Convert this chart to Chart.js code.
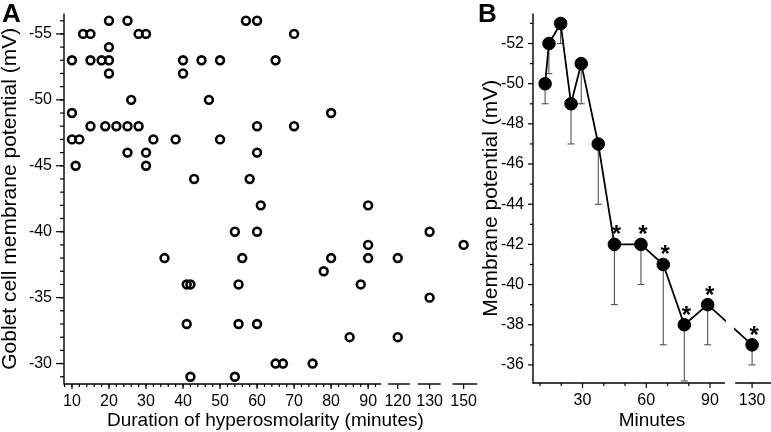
<!DOCTYPE html>
<html>
<head>
<meta charset="utf-8">
<script src="https://cdn.jsdelivr.net/npm/chart.js@4.4.1/dist/chart.umd.min.js"></script>
<style>
    html, body { margin: 0; padding: 0; background: #fff; }
    #wrap { position: relative; width: 771px; height: 432px; overflow: hidden; }
    canvas { position: absolute; top: 0; }
    #cA { left: 0; }
    #cB { left: 480px; }
    .painel { position: absolute; top: 0; font: bold 26px "Liberation Sans", Arial, sans-serif; line-height: 1; color: #000; }
</style>
</head>
<body>
<div id="wrap">
    <canvas id="cA" width="480" height="432"></canvas>
    <canvas id="cB" width="291" height="432"></canvas>
    <div class="painel" style="left:2px">A</div>
    <div class="painel" style="left:478px">B</div>
</div>
<script>
// -------------------------------------------
//  DATA
// -------------------------------------------

// panel A: every cell, duration (min) and membrane potential (mV)
var minutesA = [20,25,57,60, 13,15,28,30,70, 20, 10,15,18,20,40,45,50,65, 20,40, 26,47, 10,80,
                15,19,22,25,28,60,70, 10,12,32,38,50, 25,30,60, 11,30, 43,58, 61,90, 54,60,130,
                90,150, 35,56,80,90,120, 78, 41,42,55,88, 130, 41,55,60, 85,120, 65,67,75, 42,54]
var mvA = [-56,-56,-56,-56, -55,-55,-55,-55,-55, -54, -53,-53,-53,-53,-53,-53,-53,-53, -52,-52, -50,-50, -49,-49,
           -48,-48,-48,-48,-48,-48,-48, -47,-47,-47,-47,-47, -46,-46,-46, -45,-45, -44,-44, -42,-42, -40,-40,-40,
           -39,-39, -38,-38,-38,-38,-38, -37, -36,-36,-36,-36, -35, -33,-33,-33, -32,-32, -30,-30,-30, -29,-29]
var xTicksA = [10,20,30,40,50,60,70,80,90,120,130,150]
var yTicksA = [-55,-50,-45,-40,-35,-30]

// panel B: means with one-sided error
var minutesB = [12.4,14.2,19.7,24.6,29.4,37.4,45,57.5,68,77.9,88.9,130]
var meanB = [-50,-52,-53,-49,-51,-47,-42,-42,-41,-38,-39,-37]
var errB = [1,1.5,1,2,2,3,3,2,4,2.8,2,1]
var starB = [0,0,0,0,0,0,1,1,1,1,1,1]
var xTicksB = [30,60,90,130]
var xMinorB = [10,20,40,50,70,80]
var yTicksB = [-52,-50,-48,-46,-44,-42,-40,-38,-36]

// -------------------------------------------
//  LAYOUT (broken x axes)
// -------------------------------------------

var slotA = { 120: 98, 130: 106.6, 150: 115.8 }
var slotB = { 130: 109.8 }
var segsA = [[7.85, 93.5], [95.4, 101.3], [103.4, 109.6], [112.8, 119.5]]
var segsB = [[6.7, 97], [101.8, 118.7]]

function dispA(m) { return m <= 90 ? m : slotA[m] }
function dispB(m) { return m <= 90 ? m : slotB[m] }

function serie(a, b) {
    var out = []
    for (var i = 0; i < a.length; i++) out.push({ x: a[i], y: b[i] })
    return out
}

function range(from, to, step) {
    var out = []
    for (var v = from; v <= to + 1e-9; v += step) out.push(v)
    return out
}

Chart.defaults.font.family = '"Liberation Sans", Arial, sans-serif'
Chart.defaults.color = '#000'

// -------------------------------------------
//  PLUGIN: axes, breaks, error bars, stars
// -------------------------------------------

const ModEixos = (function() {

    function linha(ctx, x0, y0, x1, y1) {
        ctx.beginPath()
        ctx.moveTo(x0, y0)
        ctx.lineTo(x1, y1)
        ctx.stroke()
    }

    var plugin = {
        id: 'eixos',
        beforeDatasetsDraw: function(chart, args, o) {
            if (!o.err) return
            var ctx = chart.ctx, ys = chart.scales.y
            var pts = chart.getDatasetMeta(0).data
            ctx.save()
            ctx.strokeStyle = '#444'
            ctx.lineWidth = 1
            for (var i = 0; i < pts.length; i++) {
                var yEnd = ys.getPixelForValue(o.mean[i] + o.err[i])
                linha(ctx, pts[i].x, pts[i].y, pts[i].x, yEnd)
                linha(ctx, pts[i].x - 3.5, yEnd, pts[i].x + 3.5, yEnd)
            }
            ctx.restore()
        },
        afterDatasetsDraw: function(chart, args, o) {
            var ctx = chart.ctx, xs = chart.scales.x, ys = chart.scales.y, a = chart.chartArea
            var i, p
            ctx.save()
            // the data line is cut where the axis is cut
            ctx.fillStyle = '#fff'
            for (i = 0; i < o.segs.length - 1; i++) {
                var g0 = xs.getPixelForValue(o.segs[i][1]) + 1
                var g1 = xs.getPixelForValue(o.segs[i + 1][0]) - 1
                ctx.fillRect(g0, a.top, g1 - g0, a.bottom - a.top - 1)
            }
            ctx.strokeStyle = '#000'
            ctx.lineWidth = 1.4
            var yb = a.bottom
            for (i = 0; i < o.segs.length; i++) {
                linha(ctx, xs.getPixelForValue(o.segs[i][0]), yb, xs.getPixelForValue(o.segs[i][1]), yb)
            }
            linha(ctx, a.left, a.top, a.left, yb + 0.7)
            ctx.lineWidth = 1.2
            for (i = 0; i < o.xMajor.length; i++) {
                p = xs.getPixelForValue(o.xMajor[i])
                linha(ctx, p, yb, p, yb + o.xLen[0])
            }
            for (i = 0; i < o.xMinor.length; i++) {
                p = xs.getPixelForValue(o.xMinor[i])
                linha(ctx, p, yb, p, yb + o.xLen[1])
            }
            for (i = 0; i < o.yMajor.length; i++) {
                p = ys.getPixelForValue(o.yMajor[i])
                linha(ctx, a.left - o.yLen[0], p, a.left, p)
            }
            for (i = 0; i < o.yMinor.length; i++) {
                p = ys.getPixelForValue(o.yMinor[i])
                linha(ctx, a.left - o.yLen[1], p, a.left, p)
            }
            // significance stars
            if (o.stars) {
                var pts = chart.getDatasetMeta(0).data
                ctx.fillStyle = '#000'
                ctx.font = 'bold 24px "Liberation Sans", Arial, sans-serif'
                ctx.textAlign = 'center'
                ctx.textBaseline = 'alphabetic'
                for (i = 0; i < pts.length; i++) {
                    if (o.stars[i]) ctx.fillText('*', pts[i].x + 2, pts[i].y - 2)
                }
            }
            ctx.restore()
        }
    }

    return { plugin: plugin }

})()

// -------------------------------------------
//  SHARED SCALE OPTIONS
// -------------------------------------------

function escalaX(min, max, ticks, disp, w, titulo) {
    return {
        type: 'linear', min: min, max: max,
        grid: { display: false, drawTicks: true, tickLength: 5 },
        border: { display: false },
        afterBuildTicks: function(s) { s.ticks = ticks.map(function(m) { return { value: disp(m) } }) },
        afterFit: function(s) { s.height = w },
        ticks: { autoSkip: false, maxRotation: 0, padding: 3, font: { size: 16 },
                 callback: function(v, i) { return String(ticks[i]) } },
        title: { display: true, text: titulo, font: { size: 19, lineHeight: 1.2 }, padding: 0 }
    }
}

function escalaY(min, max, ticks, w, tl, titulo, lh) {
    return {
        type: 'linear', reverse: true, min: min, max: max,
        grid: { display: false, drawTicks: true, tickLength: tl },
        border: { display: false },
        afterBuildTicks: function(s) { s.ticks = ticks.map(function(v) { return { value: v } }) },
        afterFit: function(s) { s.width = w },
        ticks: { autoSkip: false, padding: 4, font: { size: 16 },
                 callback: function(v) { return String(v) } },
        title: { display: true, text: titulo, font: { size: 21, lineHeight: lh }, padding: 0 }
    }
}

// -------------------------------------------
//  CHART A
// -------------------------------------------

new Chart(document.getElementById('cA'), {
    type: 'scatter',
    data: {
        datasets: [{
            data: serie(minutesA.map(dispA), mvA),
            pointRadius: 3.9, pointHoverRadius: 3.9, pointBorderWidth: 2.6,
            pointBorderColor: '#000', pointBackgroundColor: 'rgba(0,0,0,0)'
        }]
    },
    options: {
        responsive: false, animation: false, events: [],
        layout: { padding: 0, autoPadding: false },
        plugins: {
            legend: { display: false }, tooltip: { enabled: false },
            eixos: {
                segs: segsA,
                xMajor: xTicksA.map(dispA), xMinor: range(8, 92, 2), xLen: [5, 3],
                yMajor: yTicksA, yMinor: range(-56, -29, 1), yLen: [8, 4]
            }
        },
        scales: {
            x: escalaX(segsA[0][0], segsA[3][1], xTicksA, dispA, 48, 'Duration of hyperosmolarity (minutes)\u00a0\u00a0'),
            y: escalaY(-56.54, -28.45, yTicksA, 64, 8, 'Goblet cell membrane potential (mV)', 1)
        }
    },
    plugins: [ModEixos.plugin]
})

// -------------------------------------------
//  CHART B
// -------------------------------------------

new Chart(document.getElementById('cB'), {
    type: 'scatter',
    data: {
        datasets: [{
            data: serie(minutesB.map(dispB), meanB),
            showLine: true, borderColor: '#000', borderWidth: 1.8,
            pointRadius: 6.3, pointHoverRadius: 6.3, pointBorderWidth: 1,
            pointBorderColor: '#000', pointBackgroundColor: '#000'
        }]
    },
    options: {
        responsive: false, animation: false, events: [],
        layout: { padding: 0, autoPadding: false },
        plugins: {
            legend: { display: false }, tooltip: { enabled: false },
            eixos: {
                segs: segsB, mean: meanB, err: errB, stars: starB,
                xMajor: xTicksB.map(dispB), xMinor: xMinorB, xLen: [5, 3],
                yMajor: yTicksB, yMinor: range(-53, -37, 2), yLen: [5, 3]
            }
        },
        scales: {
            x: escalaX(segsB[0][0], segsB[1][1], xTicksB, dispB, 49, 'Minutes'),
            y: escalaY(-53.49, -35.1, yTicksB, 53, 5, 'Membrane potential (mV)', 1.1)
        }
    },
    plugins: [ModEixos.plugin]
})
</script>
</body>
</html>
